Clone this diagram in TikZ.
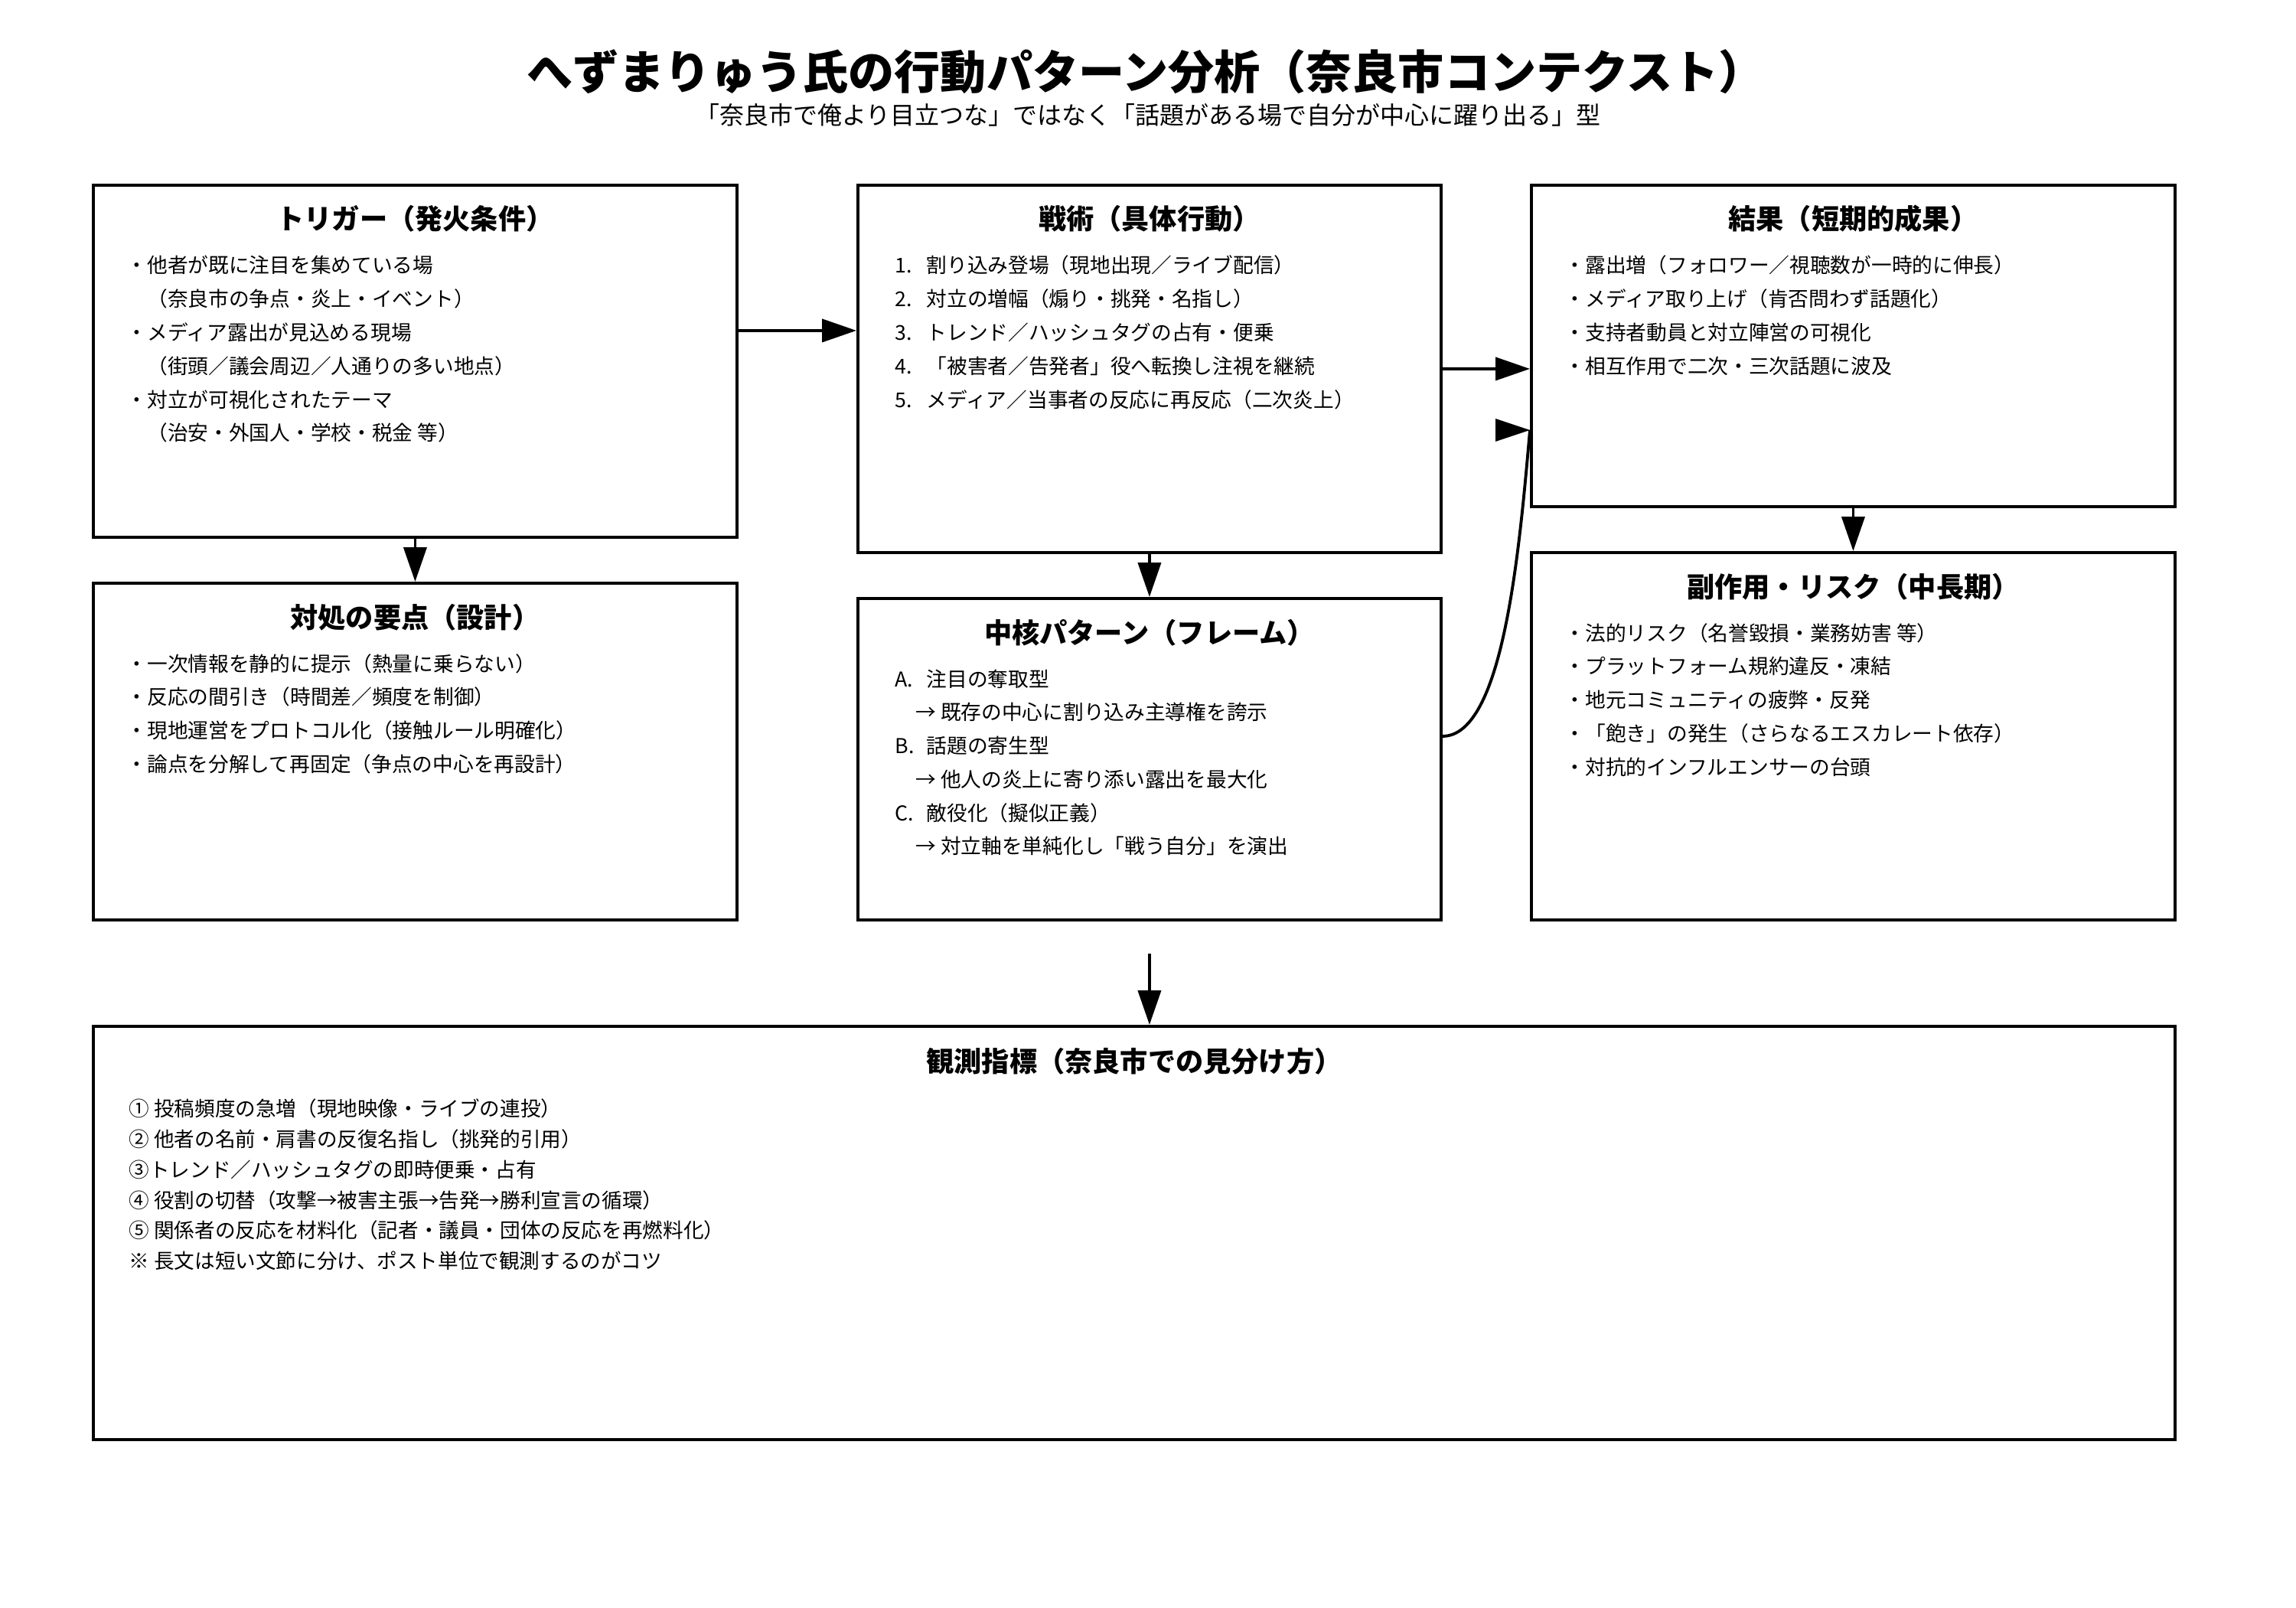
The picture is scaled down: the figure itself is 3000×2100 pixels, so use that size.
\documentclass[tikz,border=0pt]{standalone}
\usepackage{fontspec}
\setmainfont{Noto Sans CJK JP}
\usetikzlibrary{arrows.meta,calc}
\tikzset{
  box/.style={draw=black, line width=1.1pt, rectangle, inner sep=0pt, anchor=north west, fill=white},
  btitle/.style={anchor=base, inner sep=0pt, font=\fontsize{10.3pt}{12pt}\selectfont\bfseries},
  bodytxt/.style={anchor=base west, inner sep=0pt, font=\fontsize{7.6pt}{12.46pt}\selectfont},
  obstxt/.style={anchor=base west, inner sep=0pt, font=\fontsize{7.57pt}{11.38pt}\selectfont},
  arr/.style={line width=1.1pt, -{Triangle[length=4.5mm,width=3mm]}},
  link/.style={line width=1.1pt},
}
\newcommand{\numit}[1]{\makebox[4.1mm][l]{#1}}
\begin{document}
\begin{tikzpicture}[x=0.1mm,y=-0.1mm]
\useasboundingbox[fill=white] (0,0) rectangle (3000,2100);

% titles
\node[anchor=base, inner sep=0pt, font=\fontsize{17.1pt}{20pt}\selectfont\bfseries] (title) at (1497,117)
  {へずまりゅう氏の行動パターン分析（奈良市コンテクスト）};
\node[anchor=base, inner sep=0pt, font=\fontsize{9.1pt}{11pt}\selectfont] (subtitle) at (1500,163)
  {「奈良市で俺より目立つな」ではなく「話題がある場で自分が中心に躍り出る」型};

% boxes
\node[box, minimum width=84.1mm, minimum height=46mm] (trig) at (120,240) {};
\node[box, minimum width=76.2mm, minimum height=48mm] (tac)  at (1119,240) {};
\node[box, minimum width=84.1mm, minimum height=42mm] (res)  at (1999,240) {};
\node[box, minimum width=84.1mm, minimum height=44mm] (cnt)  at (120,760) {};
\node[box, minimum width=76.2mm, minimum height=42mm] (core) at (1119,780) {};
\node[box, minimum width=84.1mm, minimum height=48mm] (side) at (1999,720) {};
\node[box, minimum width=272mm, minimum height=54mm] (obs) at (120,1339) {};

% box titles
\node[btitle] (trigT) at ($(trig.north)+(0,60)$) {トリガー（発火条件）};
\node[btitle] (tacT)  at ($(tac.north)+(0,60)$)  {戦術（具体行動）};
\node[btitle] (resT)  at ($(res.north)+(0,60)$)  {結果（短期的成果）};
\node[btitle] (cntT)  at ($(cnt.north)+(0,60)$)  {対処の要点（設計）};
\node[btitle] (coreT) at ($(core.north)+(0,60)$) {中核パターン（フレーム）};
\node[btitle] (sideT) at ($(side.north)+(0,60)$) {副作用・リスク（中長期）};
\node[btitle] (obsT)  at ($(obs.north)+(0,61)$)  {観測指標（奈良市での見分け方）};

% box bodies
\node[bodytxt] (trigB) at ($(trig.north west)+(45,117)$) {\begin{tabular}[t]{@{}l@{}}
・他者が既に注目を集めている場\\
　（奈良市の争点・炎上・イベント）\\
・メディア露出が見込める現場\\
　（街頭／議会周辺／人通りの多い地点）\\
・対立が可視化されたテーマ\\
　（治安・外国人・学校・税金 等）
\end{tabular}};

\node[bodytxt] (tacB) at ($(tac.north west)+(50,117)$) {\begin{tabular}[t]{@{}l@{}}
\numit{1.}割り込み登場（現地出現／ライブ配信）\\
\numit{2.}対立の増幅（煽り・挑発・名指し）\\
\numit{3.}トレンド／ハッシュタグの占有・便乗\\
\numit{4.}「被害者／告発者」役へ転換し注視を継続\\
\numit{5.}メディア／当事者の反応に再反応（二次炎上）
\end{tabular}};

\node[bodytxt] (resB) at ($(res.north west)+(45,117)$) {\begin{tabular}[t]{@{}l@{}}
・露出増（フォロワー／視聴数が一時的に伸長）\\
・メディア取り上げ（肯否問わず話題化）\\
・支持者動員と対立陣営の可視化\\
・相互作用で二次・三次話題に波及
\end{tabular}};

\node[bodytxt] (cntB) at ($(cnt.north west)+(45,117)$) {\begin{tabular}[t]{@{}l@{}}
・一次情報を静的に提示（熱量に乗らない）\\
・反応の間引き（時間差／頻度を制御）\\
・現地運営をプロトコル化（接触ルール明確化）\\
・論点を分解して再固定（争点の中心を再設計）
\end{tabular}};

\node[bodytxt] (coreB) at ($(core.north west)+(50,117)$) {\begin{tabular}[t]{@{}l@{}}
\numit{A.}注目の奪取型\\
　→ 既存の中心に割り込み主導権を誇示\\
\numit{B.}話題の寄生型\\
　→ 他人の炎上に寄り添い露出を最大化\\
\numit{C.}敵役化（擬似正義）\\
　→ 対立軸を単純化し「戦う自分」を演出
\end{tabular}};

\node[bodytxt] (sideB) at ($(side.north west)+(45,117)$) {\begin{tabular}[t]{@{}l@{}}
・法的リスク（名誉毀損・業務妨害 等）\\
・プラットフォーム規約違反・凍結\\
・地元コミュニティの疲弊・反発\\
・「飽き」の発生（さらなるエスカレート依存）\\
・対抗的インフルエンサーの台頭
\end{tabular}};

\node[obstxt] (obsB) at ($(obs.north west)+(48,119)$) {\begin{tabular}[t]{@{}l@{}}
① 投稿頻度の急増（現地映像・ライブの連投）\\
② 他者の名前・肩書の反復名指し（挑発的引用）\\
③トレンド／ハッシュタグの即時便乗・占有\\
④ 役割の切替（攻撃→被害主張→告発→勝利宣言の循環）\\
⑤ 関係者の反応を材料化（記者・議員・団体の反応を再燃料化）\\
※ 長文は短い文節に分け、ポスト単位で観測するのがコツ
\end{tabular}};

% connectors
\draw[arr] ([yshift=4mm]trig.east) -- ([yshift=5mm]tac.west);
\draw[arr] (tac.east) -- ([yshift=-3mm]res.west);
\coordinate (curveEnd) at ([yshift=-11mm]res.west);
\draw[link] ([yshift=3mm]core.east) .. controls +(79,0) and +(-14,160) .. (curveEnd);
\fill (curveEnd) -- ++(-45,-15) -- ++(0,30) -- cycle;
\draw[arr] (trig.south) -- (cnt.north);
\draw[arr] (tac.south) -- (core.north);
\draw[arr] (res.south) -- (side.north);
\coordinate (obsFrom) at ($(core.south)+(0,42)$);
\draw[arr] (obsFrom) -- (obsFrom |- obs.north);
\end{tikzpicture}
\end{document}
